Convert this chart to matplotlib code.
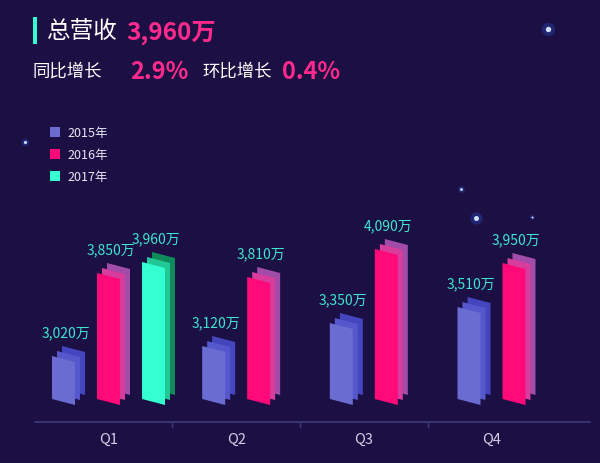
import matplotlib
matplotlib.use("Agg")
import matplotlib.pyplot as plt
from matplotlib.patches import Polygon, Rectangle

plt.rcParams["font.family"] = ["Noto Sans CJK SC", "DejaVu Sans"]

categories = ["Q1", "Q2", "Q3", "Q4"]
series_names = ["2015年", "2016年", "2017年"]
v2015 = [3020, 3120, 3350, 3510]
v2016 = [3850, 3810, 4090, 3950]
v2017 = [3960, None, None, None]
total_label = "3,960万"
yoy_label = "2.9%"
mom_label = "0.4%"

colors = {
    "2015年": ["#6a6cd2", "#5558cc", "#4446c0"],
    "2016年": ["#ff0a78", "#d83c9c", "#a04ca8"],
    "2017年": ["#33ffd2", "#22c796", "#0f8a5a"],
}

W, H = 600, 464
fig = plt.figure(figsize=(6, 4.64), dpi=100)
fig.patch.set_facecolor("#1b0f44")
ax = fig.add_axes([0, (H - 423) / H, 1, 423 / H])
ax.set_facecolor("none")
scale = 0.1
ymin = 2360
ymax = ymin + 423 / scale
xmin, xmax = -0.85, 3.85
ax.set_xlim(xmin, xmax)
ax.set_ylim(ymin, ymax)
ax.axis("off")
pxx = (xmax - xmin) / W
pxy = (ymax - ymin) / 423
base = ymin + 23 * pxy

def bar(xc, val, cols):
    w = 23 * pxx
    slope = 6 * pxy
    for i in range(2, -1, -1):
        dx = i * 5 * pxx
        dy = i * 5 * pxy
        x0 = xc - w / 2 + dx
        x1 = xc + w / 2 + dx
        pts = [(x0, base + dy), (x1, base + dy - slope), (x1, val + dy - slope), (x0, val + dy)]
        ax.add_patch(Polygon(pts, closed=True, fc=cols[i], ec="none"))

slot = 45 * pxx
for ci in range(len(categories)):
    vals = [(n, v[ci]) for n, v in zip(series_names, [v2015, v2016, v2017]) if v[ci] is not None]
    k = len(vals)
    for j, (n, v) in enumerate(vals):
        xc = ci + (j - (k - 1) / 2) * slot
        bar(xc, v, colors[n])
        ax.text(xc + 2 * pxx, v + 17 * pxy, f"{v:,}万", color="#3ee6cf", fontsize=10,
                ha="center", va="bottom")

ax.plot([xmin + 35 * pxx, xmin + 590 * pxx], [ymin, ymin], color="#3c3a7e", lw=1.2, clip_on=False)
for s in [0.5, 1.5, 2.5]:
    ax.plot([s, s], [ymin, ymin - 5 * pxy], color="#3c3a7e", lw=1, clip_on=False)
for ci, c in enumerate(categories):
    ax.text(ci, ymin - 17 * pxy, c, color="#d0d0e6", fontsize=10.5, ha="center", va="center")

for (x, y, s) in [(548, 30, 30), (476, 219, 26), (461, 190, 8), (25, 143, 10), (532, 218, 4)]:
    ax.scatter([xmin + x * pxx], [ymax - y * pxy], s=s * 3, color="#3a6cff", alpha=0.25, lw=0)
    ax.scatter([xmin + x * pxx], [ymax - y * pxy], s=s / 2, color="#cfe0ff", lw=0)

fig.patches.append(Rectangle((33 / W, 1 - 45 / H), 4 / W, 27 / H, transform=fig.transFigure,
                             fc="#33ffd2", ec="none"))
fig.text(47 / W, 1 - 32 / H, "总营收", color="#ffffff", fontsize=17, va="center")
fig.text(126 / W, 1 - 33 / H, total_label, color="#ff2a8c", fontsize=17.5, fontweight="bold", va="center")
fig.text(33 / W, 1 - 72 / H, "同比增长", color="#ffffff", fontsize=12.5, va="center")
fig.text(130 / W, 1 - 72 / H, yoy_label, color="#ff2a8c", fontsize=17, fontweight="bold", va="center")
fig.text(202 / W, 1 - 72 / H, "环比增长", color="#ffffff", fontsize=12.5, va="center")
fig.text(282 / W, 1 - 72 / H, mom_label, color="#ff2a8c", fontsize=17, fontweight="bold", va="center")

for i, n in enumerate(series_names):
    y = 133 + 22 * i
    fig.patches.append(Rectangle((50 / W, 1 - (y + 5) / H), 10 / W, 10 / H, transform=fig.transFigure,
                                 fc=colors[n][0], ec="none"))
    fig.text(67 / W, 1 - y / H, n, color="#e8e8f4", fontsize=9, va="center")

fig.savefig("out.png", dpi=100, facecolor=fig.get_facecolor())
